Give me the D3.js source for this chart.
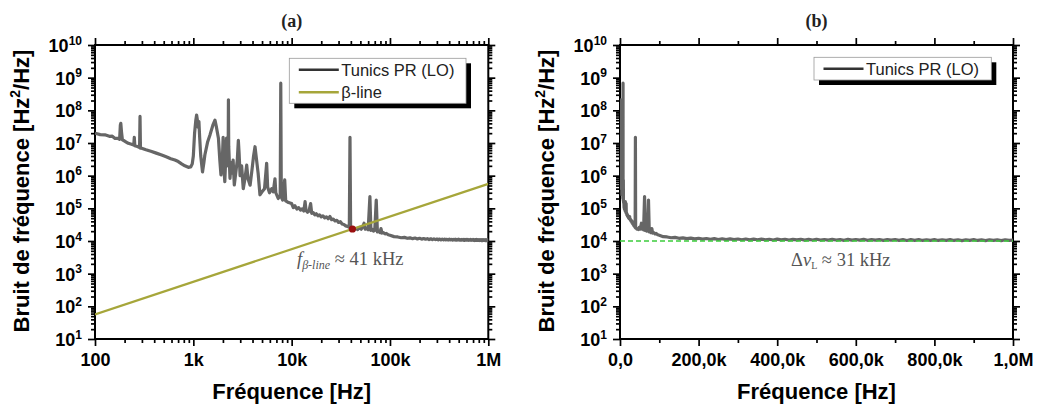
<!DOCTYPE html>
<html><head><meta charset="utf-8">
<script src="https://cdn.jsdelivr.net/npm/d3@7"></script>
<style>body{margin:0;background:#fff}svg{display:block}</style>
</head><body><svg id="c" width="1038" height="408"></svg>
<script>
// ---------- DATA ----------
// Frequency noise PSD of "Tunics PR (LO)" : [frequency Hz, Hz²/Hz]
const noiseSpectrum = [
 [100,2.0e7],[113,1.8e7],[126,1.78e7],[140,1.6e7],[150,1.62e7],[160,1.38e7],[170,1.4e7],[178,1.3e7],
 [181,3.5e7],[183,4.0e7],[186,2.2e7],[190,1.25e7],[200,1.15e7],[218,9.8e6],[235,9.2e6],[248,8.6e6],
 [251,1.5e7],[254,8.3e6],[270,7.8e6],[284,7.3e6],[287,6.5e7],[290,6.9e6],[298,6.9e6],[330,6.2e6],
 [370,5.6e6],[420,4.9e6],[476,4.3e6],[530,3.8e6],[590,3.3e6],[650,3.0e6],[703,2.7e6],[760,2.3e6],
 [820,2.0e6],[889,1.8e6],[940,1.85e6],[975,2.3e6],
 [1000,4.0e6],[1030,2.0e7],[1060,5.0e7],[1080,7.2e7],[1100,5.0e7],[1120,3.0e7],[1140,4.5e7],[1160,1.5e7],
 [1190,4.0e6],[1240,1.3e6],[1280,2.5e6],[1310,4.3e6],[1400,1.1e7],[1480,1.8e7],[1580,3.5e7],[1660,5.0e7],
 [1720,3.0e7],[1800,1.4e7],[1860,3.0e6],[1910,1.05e6],[1970,2.7e6],[2010,1.5e7],[2040,2.0e6],[2090,6.6e5],
 [2140,4.0e6],[2175,1.4e7],[2210,2.0e6],[2260,3.0e6],[2275,2.1e8],[2290,8.0e6],[2360,8.3e5],[2420,2.5e6],
 [2480,1.2e6],[2540,3.0e6],[2610,5.2e5],[2700,1.2e6],[2800,3.0e6],[2870,1.2e7],[2920,5.0e6],[2990,1.0e6],
 [3100,2.0e6],[3220,4.0e5],[3350,8.0e5],[3490,2.1e6],[3600,8.0e5],[3780,5.1e5],[3950,1.5e6],[4100,4.0e6],
 [4240,7.7e6],[4400,3.0e6],[4560,1.2e6],[4760,2.6e5],[5000,3.2e5],[5300,4.0e5],[5570,2.4e6],[5700,4.5e5],
 [5950,3.0e5],[6260,4.0e5],[6500,3.2e5],[6770,8.0e5],[6900,3.0e5],[7300,2.0e5],[7650,2.5e5],[7750,6.8e8],
 [7850,2.2e5],[8100,1.8e5],[8500,7.4e5],[8700,1.7e5],[9300,1.5e5],
 [10000,1.4e5],[10400,1.05e5],[10800,1.2e5],[11300,9.5e4],[11800,1.05e5],[12300,8.8e4],[12800,9.6e4],
 [13300,8.3e4],[13700,1.6e5],[14000,8.6e4],[14500,7.6e4],[15000,8.2e4],[15600,1.4e5],[16000,7.0e4],
 [16600,7.4e4],[17200,6.3e4],[17800,6.8e4],[18500,5.9e4],[19200,6.3e4],[20000,5.5e4],[20800,5.9e4],
 [21700,5.1e4],[22600,5.5e4],[23500,4.8e4],[24500,5.6e4],[25500,4.5e4],[26500,4.7e4],[27600,4.1e4],
 [28800,4.3e4],[30000,3.7e4],[31300,3.9e4],[32600,3.3e4],[34000,3.2e4],[35500,2.9e4],[37000,2.8e4],
 [38600,2.6e4],[39200,1.5e7],[39800,2.5e4],[41500,2.45e4],[43000,2.3e4],[45000,2.4e4],[47000,2.25e4],
 [49000,2.6e4],[51000,2.3e4],[53000,2.8e4],[54500,3.5e4],[56000,2.3e4],[58000,2.5e4],[60000,2.2e4],
 [62500,2.3e5],[64000,2.1e4],[66000,2.3e4],[68000,2.0e4],[70000,2.1e4],[72500,1.8e5],[74500,1.9e4],
 [77000,2.0e4],[79000,1.8e4],[81000,2.4e4],[83000,1.75e4],[86000,1.8e4],[89000,1.65e4],[92000,1.7e4],
 [96000,1.55e4],
 [100000,1.50e4],[110000,1.36e4],[120000,1.33e4],[130000,1.26e4],[140000,1.29e4],[150000,1.21e4],
 [160000,1.25e4],[170000,1.18e4],[180000,1.23e4],[190000,1.16e4],[200000,1.21e4],[210000,1.14e4],
 [220000,1.19e4],[230000,1.13e4],[240000,1.18e4],[250000,1.11e4],[260000,1.17e4],[270000,1.10e4],
 [280000,1.16e4],[290000,1.10e4],[300000,1.15e4],[310000,1.09e4],[320000,1.15e4],[330000,1.08e4],
 [340000,1.14e4],[350000,1.09e4],[360000,1.14e4],[370000,1.08e4],[380000,1.13e4],[390000,1.07e4],
 [400000,1.14e4],[410000,1.08e4],[420000,1.13e4],[430000,1.07e4],[440000,1.12e4],[450000,1.08e4],
 [460000,1.13e4],[470000,1.06e4],[480000,1.12e4],[490000,1.07e4],[500000,1.13e4],[510000,1.07e4],
 [520000,1.11e4],[530000,1.06e4],[540000,1.12e4],[550000,1.07e4],[560000,1.11e4],[570000,1.05e4],
 [580000,1.12e4],[590000,1.06e4],[600000,1.11e4],[610000,1.06e4],[620000,1.12e4],[630000,1.05e4],
 [640000,1.10e4],[650000,1.06e4],[660000,1.11e4],[670000,1.05e4],[680000,1.10e4],[690000,1.06e4],
 [700000,1.11e4],[710000,1.05e4],[720000,1.10e4],[730000,1.04e4],[740000,1.10e4],[750000,1.05e4],
 [760000,1.11e4],[770000,1.04e4],[780000,1.09e4],[790000,1.05e4],[800000,1.10e4],[810000,1.04e4],
 [820000,1.09e4],[830000,1.05e4],[840000,1.10e4],[850000,1.04e4],[860000,1.09e4],[870000,1.03e4],
 [880000,1.09e4],[890000,1.05e4],[900000,1.10e4],[910000,1.04e4],[920000,1.08e4],[930000,1.03e4],
 [940000,1.09e4],[950000,1.04e4],[960000,1.08e4],[970000,1.03e4],[980000,1.09e4],[990000,1.04e4],
 [1000000,1.06e4]
];
const betaLine = [[100, 56.2], [1000000, 5.62e5]];
const betaCross = [[41500, 2.33e4]];
const whiteNoiseLevel = [[0, 1.0e4], [1000000, 1.0e4]];

const yDecades = [1e1,1e2,1e3,1e4,1e5,1e6,1e7,1e8,1e9,1e10];
const yExponents = ["1","2","3","4","5","6","7","8","9","10"];
const xTicksLog = [100, 1000, 10000, 100000, 1000000];
const xTickLabelsLog = ["100","1k","10k","100k","1M"];
const xTicksLin = [0, 200000, 400000, 600000, 800000, 1000000];
const xTickLabelsLin = ["0,0","200,0k","400,0k","600,0k","800,0k","1,0M"];
const xMinorLin = [100000, 300000, 500000, 700000, 900000];
const titles = ["(a)", "(b)"];
const seriesNames = ["Tunics PR (LO)", "β-line"];
const yTitle = ["Bruit de fréquence [Hz", "2", "/Hz]"];
const xTitle = "Fréquence [Hz]";

// ---------- DRAW ----------
const svg = d3.select("#c");
svg.append("rect").attr("width",1038).attr("height",408).attr("fill","#fff");
const SANS = "'Liberation Sans', Arial, sans-serif";
const SERIF = "'Liberation Serif', 'DejaVu Serif', serif";
const GRAY = "#666666", OLIVE = "#a6a63a";

const yTop = 45, yBot = 339;
const y = d3.scaleLog().domain([10, 1e10]).range([yBot, yTop]);

function logMinors(lo, hi) {
  const out = [];
  for (let d = lo; d < hi; d *= 10) for (let k = 2; k <= 9; k++) out.push(k * d);
  return out;
}
const yMinor = logMinors(10, 1e10);

function styleAxis(g) {
  g.select(".domain").remove();
  g.selectAll(".tick line").attr("stroke","#000").attr("stroke-width",1.7);
  g.selectAll("text").attr("font-family",SANS).attr("font-weight","bold").attr("font-size",18).attr("fill","#000");
}

function panel(idx, x0, x1, x, xMajor, xLabels, xMinor) {
  const g = svg.append("g");
  const clipId = "clip" + idx;
  svg.append("clipPath").attr("id", clipId).append("rect")
    .attr("x", x0).attr("y", yTop).attr("width", x1 - x0).attr("height", yBot - yTop);

  // axes
  g.append("g").attr("transform",`translate(0,${yBot})`)
    .call(d3.axisBottom(x).tickValues(xMajor).tickSize(7).tickSizeOuter(0).tickPadding(7).tickFormat((d,i)=>xLabels[i]))
    .call(styleAxis);
  g.append("g").attr("transform",`translate(0,${yBot})`)
    .call(d3.axisBottom(x).tickValues(xMinor).tickSize(4).tickSizeOuter(0).tickFormat(""))
    .call(styleAxis);
  g.append("g").attr("transform",`translate(0,${yTop})`)
    .call(d3.axisTop(x).tickValues(xMajor).tickSize(7).tickSizeOuter(0).tickFormat(""))
    .call(styleAxis);
  g.append("g").attr("transform",`translate(0,${yTop})`)
    .call(d3.axisTop(x).tickValues(xMinor).tickSize(4).tickSizeOuter(0).tickFormat(""))
    .call(styleAxis);
  const yl = g.append("g").attr("transform",`translate(${x0},0)`)
    .call(d3.axisLeft(y).tickValues(yDecades).tickSize(7).tickSizeOuter(0).tickPadding(6).tickFormat(""))
    .call(styleAxis);
  yl.selectAll(".tick").each(function(d, i) {
    const t = d3.select(this).select("text").attr("dy", "0.36em");
    t.append("tspan").text("10");
    t.append("tspan").attr("font-size", 12).attr("dy", "-0.6em").text(yExponents[i]);
  });
  g.append("g").attr("transform",`translate(${x0},0)`)
    .call(d3.axisLeft(y).tickValues(yMinor).tickSize(4).tickSizeOuter(0).tickFormat("")).call(styleAxis);
  g.append("g").attr("transform",`translate(${x1},0)`)
    .call(d3.axisRight(y).tickValues(yDecades).tickSize(7).tickSizeOuter(0).tickFormat("")).call(styleAxis);
  g.append("g").attr("transform",`translate(${x1},0)`)
    .call(d3.axisRight(y).tickValues(yMinor).tickSize(4).tickSizeOuter(0).tickFormat("")).call(styleAxis);

  // frame
  g.append("rect").attr("x", x0).attr("y", yTop).attr("width", x1 - x0).attr("height", yBot - yTop)
    .attr("fill","none").attr("stroke","#000").attr("stroke-width",2);

  // titles
  const cx = (x0 + x1) / 2;
  g.append("text").attr("x", cx).attr("y", 27).attr("text-anchor","middle")
    .attr("font-family", SERIF).attr("font-weight","bold").attr("font-size", 18).attr("fill","#222").text(titles[idx]);
  g.append("text").attr("x", cx).attr("y", 399).attr("text-anchor","middle")
    .attr("font-family", SANS).attr("font-weight","bold").attr("font-size", 22).attr("fill","#000").text(xTitle);
  const yt = g.append("text").attr("transform",`translate(${x0 - 66},${(yTop + yBot) / 2 - 1}) rotate(-90)`)
    .attr("text-anchor","middle").attr("font-family", SANS).attr("font-weight","bold").attr("font-size", 22).attr("fill","#000");
  yt.append("tspan").text(yTitle[0]);
  yt.append("tspan").attr("font-size", 14).attr("dy", -9).text(yTitle[1]);
  yt.append("tspan").attr("dy", 9).text(yTitle[2]);

  const plot = g.append("g").attr("clip-path", `url(#${clipId})`);
  return { g, plot };
}

// ---- Panel (a) ----
const xa = d3.scaleLog().domain([100, 1e6]).range([95, 488.3]);
const pa = panel(0, 95, 488.3, xa, xTicksLog, xTickLabelsLog, logMinors(100, 1e6));
const lineA = d3.line().x(d => xa(d[0])).y(d => y(d[1]));
pa.plot.append("path").datum(noiseSpectrum).attr("d", lineA)
  .attr("fill","none").attr("stroke", GRAY).attr("stroke-width", 3.2).attr("stroke-linejoin","round");
pa.plot.append("path").datum(betaLine).attr("d", lineA)
  .attr("fill","none").attr("stroke", OLIVE).attr("stroke-width", 2.2);
pa.plot.selectAll("circle.cross").data(betaCross).join("circle").attr("class","cross")
  .attr("cx", d => xa(d[0])).attr("cy", d => y(d[1])).attr("r", 3.6).attr("fill", "#9a0f0f");

const annA = pa.g.append("text").attr("x", 297).attr("y", 265).attr("font-family", SERIF)
  .attr("font-size", 18.5).attr("fill", "#555");
annA.append("tspan").attr("font-style","italic").text("f");
annA.append("tspan").attr("font-style","italic").attr("font-size", 12).attr("dy", 4).text("β-line");
annA.append("tspan").attr("dy", -4).text(" ≈ 41 kHz");

// legend
function legend(g, bx, by, bw, bh, items) {
  g.append("rect").attr("x", bx + 5).attr("y", by + 5).attr("width", bw).attr("height", bh).attr("fill", "#000");
  g.append("rect").attr("x", bx).attr("y", by).attr("width", bw).attr("height", bh)
    .attr("fill", "#fff").attr("stroke", "#999").attr("stroke-width", 0.8);
  items.forEach((it, i) => {
    const cy = by + 11.5 + i * 22.4;
    g.append("line").attr("x1", bx + 9.5).attr("x2", bx + 49.5).attr("y1", cy).attr("y2", cy)
      .attr("stroke", it.color).attr("stroke-width", 2.6);
    g.append("text").attr("x", bx + 52).attr("y", cy + 6).attr("font-family", SANS)
      .attr("font-size", 16.5).attr("fill", "#222").text(it.name);
  });
}
legend(pa.g, 289.3, 58.3, 176.7, 45, [{name: seriesNames[0], color: "#333"}, {name: seriesNames[1], color: OLIVE}]);

// ---- Panel (b) ----
const xb = d3.scaleLinear().domain([0, 1e6]).range([620, 1013]);
const pb = panel(1, 620, 1013, xb, xTicksLin, xTickLabelsLin, xMinorLin);
const lineB = d3.line().x(d => xb(d[0])).y(d => y(d[1]));
pb.plot.append("path").datum(noiseSpectrum).attr("d", lineB)
  .attr("fill","none").attr("stroke", GRAY).attr("stroke-width", 3.2).attr("stroke-linejoin","round");
pb.plot.append("path").datum(whiteNoiseLevel).attr("d", lineB)
  .attr("fill","none").attr("stroke", "#3ccc3c").attr("stroke-width", 1.5).attr("stroke-dasharray", "5,3");

const annB = pb.g.append("text").attr("x", 791).attr("y", 266).attr("font-family", SERIF)
  .attr("font-size", 18.5).attr("fill", "#555");
annB.append("tspan").text("Δ");
annB.append("tspan").attr("font-style","italic").text("ν");
annB.append("tspan").attr("font-size", 10).attr("dy", 3).text("L");
annB.append("tspan").attr("dy", -3).text(" ≈ 31 kHz");

legend(pb.g, 814, 57.3, 177.3, 22.7, [{name: seriesNames[0], color: "#333"}]);
</script></body></html>
